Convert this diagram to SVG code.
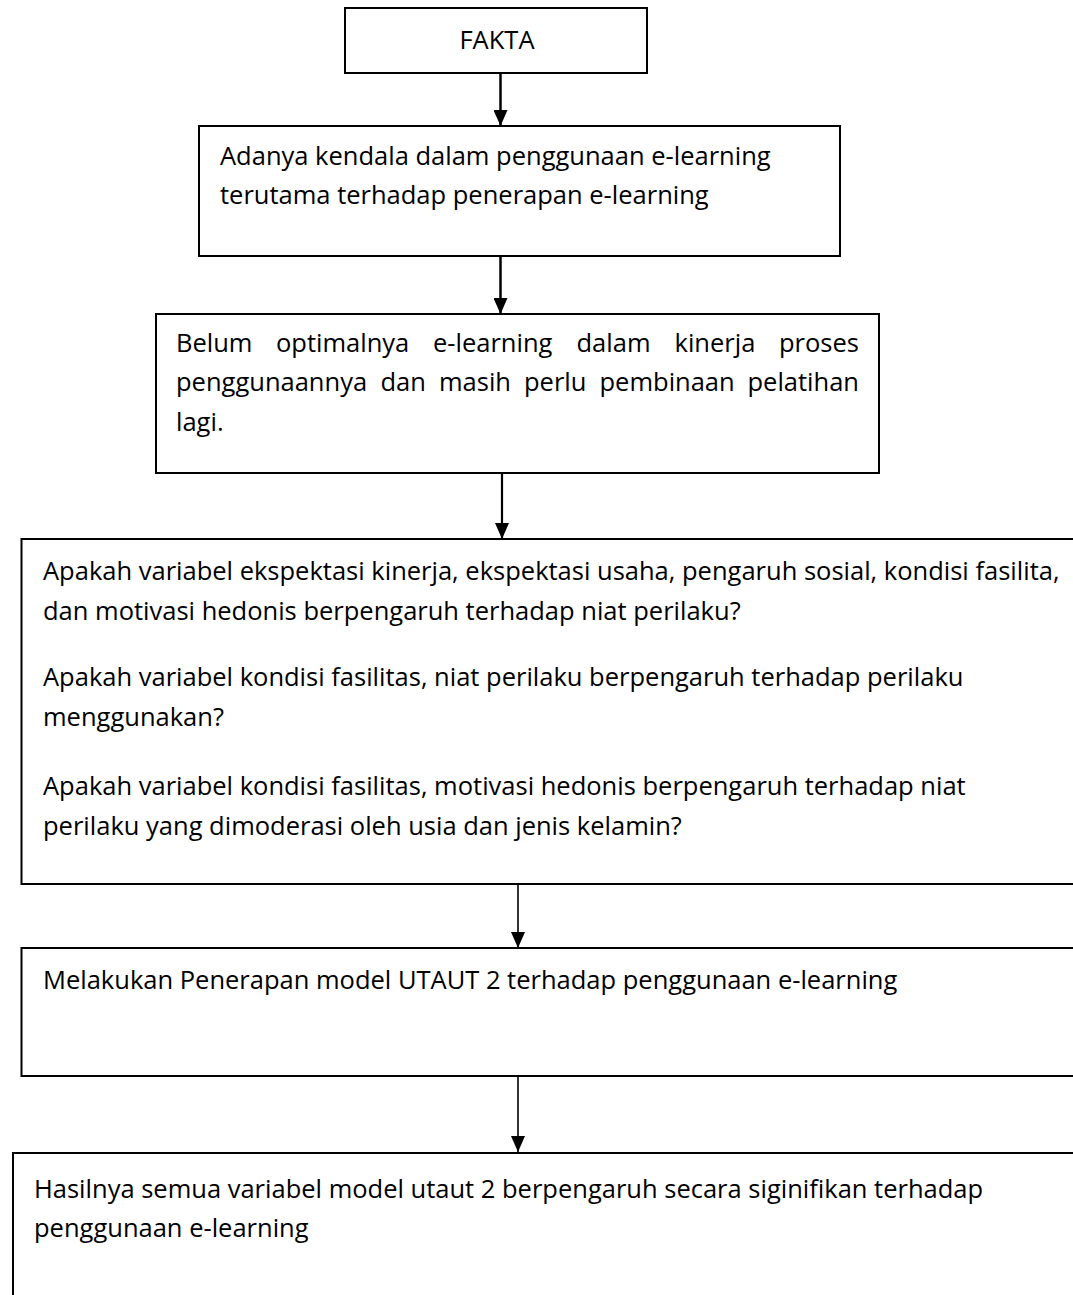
<svg xmlns="http://www.w3.org/2000/svg" width="1073" height="1295" viewBox="0 0 1073 1295">
<style>
.box{fill:#fff;stroke:#000;stroke-width:2}
.t{font-family:"Open Sans","Liberation Sans",sans-serif;font-size:25.5px;fill:#000}
.c{stroke:#000;fill:none}
</style>
<defs>
<marker id="ah" viewBox="0 0 16 14" refX="16" refY="7" markerWidth="16" markerHeight="14" markerUnits="userSpaceOnUse" orient="auto">
<path d="M0,0 L16,7 L0,14 z" fill="#000"/>
</marker>
</defs>
<rect width="1073" height="1295" fill="#fff"/>
<g id="connectors">
<line class="c" x1="500.5" y1="73" x2="500.5" y2="126" stroke-width="2.5" marker-end="url(#ah)"/>
<line class="c" x1="500.5" y1="256" x2="500.5" y2="314" stroke-width="2.5" marker-end="url(#ah)"/>
<line class="c" x1="502" y1="473" x2="502" y2="539" stroke-width="2.2" marker-end="url(#ah)"/>
<line class="c" x1="518" y1="884" x2="518" y2="948" stroke-width="1.6" marker-end="url(#ah)"/>
<line class="c" x1="518" y1="1076" x2="518" y2="1152" stroke-width="1.6" marker-end="url(#ah)"/>
</g>
<g id="fakta">
<rect class="box" x="345" y="8" width="302" height="65"/>
<text class="t" x="497" y="49" text-anchor="middle">FAKTA</text>
</g>
<g id="kendala">
<rect class="box" x="199" y="126" width="641" height="130"/>
<text class="t" x="220" y="165">Adanya kendala dalam penggunaan e-learning</text>
<text class="t" x="220" y="204">terutama terhadap penerapan e-learning</text>
</g>
<g id="belum-optimal">
<rect class="box" x="156" y="314" width="723" height="159"/>
<text class="t" y="352"><tspan x="176">Belum</tspan><tspan x="276">optimalnya</tspan><tspan x="433">e-learning</tspan><tspan x="576.5">dalam</tspan><tspan x="674.5">kinerja</tspan><tspan x="779">proses</tspan></text>
<text class="t" y="391"><tspan x="176">penggunaannya</tspan><tspan x="380.5">dan</tspan><tspan x="439">masih</tspan><tspan x="524">perlu</tspan><tspan x="599.5">pembinaan</tspan><tspan x="747.5">pelatihan</tspan></text>
<text class="t" x="176" y="431">lagi.</text>
</g>
<g id="rumusan">
<rect class="box" x="21.5" y="539" width="1070" height="345"/>
<text class="t" x="43" y="580">Apakah variabel ekspektasi kinerja, ekspektasi usaha, pengaruh sosial, kondisi fasilita,</text>
<text class="t" x="43" y="620">dan motivasi hedonis berpengaruh terhadap niat perilaku?</text>
<text class="t" x="43" y="686">Apakah variabel kondisi fasilitas, niat perilaku berpengaruh terhadap perilaku</text>
<text class="t" x="43" y="726">menggunakan?</text>
<text class="t" x="43" y="795">Apakah variabel kondisi fasilitas, motivasi hedonis berpengaruh terhadap niat</text>
<text class="t" x="43" y="835">perilaku yang dimoderasi oleh usia dan jenis kelamin?</text>
</g>
<g id="penerapan">
<rect class="box" x="21.5" y="948" width="1070" height="128"/>
<text class="t" x="43" y="989">Melakukan Penerapan model UTAUT 2 terhadap penggunaan e-learning</text>
</g>
<g id="hasil">
<rect class="box" x="13" y="1153" width="1080" height="160"/>
<text class="t" x="34" y="1198">Hasilnya semua variabel model utaut 2 berpengaruh secara siginifikan terhadap</text>
<text class="t" x="34" y="1237">penggunaan e-learning</text>
</g>
</svg>
